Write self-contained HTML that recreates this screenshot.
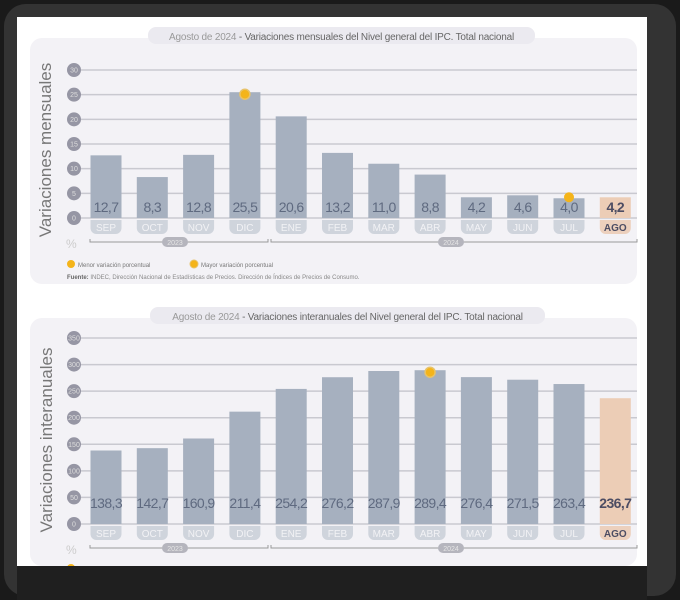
<!DOCTYPE html>
<html><head><meta charset="utf-8"><style>
html,body{margin:0;padding:0;background:#000;}
svg{display:block;font-family:"Liberation Sans",sans-serif;}
</style></head><body>
<svg id="c" width="680" height="600" viewBox="0 0 680 600">
<rect x="0" y="0" width="680" height="600" fill="#1a1a1a"/>
<rect x="4" y="4" width="672" height="592" rx="22" fill="#333"/>
<rect x="17" y="17" width="630" height="549" fill="#fff"/>
<g id="g1"></g><g id="g2"></g>
</svg>
<script>
const months=["SEP","OCT","NOV","DIC","ENE","FEB","MAR","ABR","MAY","JUN","JUL","AGO"];
const monthly=[12.7,8.3,12.8,25.5,20.6,13.2,11.0,8.8,4.2,4.6,4.0,4.2];
const monthlyTicks=[0,5,10,15,20,25,30];
const annual=[138.3,142.7,160.9,211.4,254.2,276.2,287.9,289.4,276.4,271.5,263.4,236.7];
const annualTicks=[0,50,100,150,200,250,300,350];
const monthlyMarks=[{i:3,t:"max"},{i:10,t:"min"}];
const annualMarks=[{i:7,t:"max"}];
const NS="http://www.w3.org/2000/svg";
function mk(p,tag,a,txt){const e=document.createElementNS(NS,tag);for(const k in a)e.setAttribute(k,a[k]);if(txt!==undefined)e.textContent=txt;p.appendChild(e);return e;}
function fmt(v){return v.toFixed(1).replace('.',',');}
function chart(g,o){
  const p=mk(g,'rect',{x:30,y:o.panelY,width:607,height:o.panelH,rx:12,fill:'#f3f2f6'});
  
  
  const tp=mk(g,'rect',{x:o.tx,y:o.tY-9,width:o.tw,height:17,rx:8,fill:'#ebeaf0'});
  
  
  const t=mk(g,'text',{x:o.tx+o.tw/2,y:o.tY+4,'text-anchor':'middle','font-size':10,fill:'#666','letter-spacing':'-0.2'});
  
  
  mk(t,'tspan',{fill:'#999'},'Agosto de 2024');
  mk(t,'tspan',{},' - '+o.title);
  const max=o.ticks[o.ticks.length-1];
  const y=v=>o.y0-(v/max)*(o.y0-o.yTop);
  const x=i=>106+i*46.3;
  o.ticks.forEach(v=>{
    const l=mk(g,'line',{x1:78,x2:637,y1:y(v),y2:y(v),stroke:'#c9c9d0','stroke-width':1.5});
    
    
    const c=mk(g,'circle',{cx:74,cy:y(v),r:7,fill:'#9696a4'});
    
    
    const tt=mk(g,'text',{x:74,y:y(v)+2.5,'text-anchor':'middle','font-size':7,fill:'#ddd'},v);
    
    
  });
  const yt=mk(g,'text',{x:0,y:0,transform:`translate(${o.ytX},${o.ytY}) rotate(-90)`,'text-anchor':'middle','font-size':17,fill:'#777'},o.ytitle);
  
  
  o.data.forEach((v,i)=>{
    const last=i===o.data.length-1;
    const b=mk(g,'rect',{x:x(i)-15.5,y:y(v),width:31,height:o.y0-y(v),fill:last?'#eccdb6':'#a6b0bf'});
    
    
    const vl=mk(g,'text',{x:x(i),y:o.y0-o.vOff,'text-anchor':'middle','font-size':o.vfs,fill:last?'#4d4d63':'#5f6a80','font-weight':last?'bold':'normal','letter-spacing':'-0.6'},fmt(v));
    
    
    const mp=mk(g,'path',{d:`M${x(i)-15.5},${o.y0+2}h31v8a6,6 0 0 1 -6,6h-19a6,6 0 0 1 -6,-6z`,fill:last?'#ecd0bd':'#cfd4dc'});
    
    
    const ml=mk(g,'text',{x:x(i),y:o.y0+13,'text-anchor':'middle','font-size':10,fill:last?'#4d4d63':'#f2f2f5','font-weight':last?'bold':'normal'},months[i]);
    
    
  });
  o.marks.forEach(m=>{
    const c=mk(g,'circle',{cx:x(m.i),cy:y(o.data[m.i])+(m.t==='max'?2:-1),r:5,fill:'#f4b41a',stroke:m.t==='max'?'#e8c36a':'none','stroke-width':1.5});
    
    
  });
  const yl=o.y0+24;
  const pc=mk(g,'text',{x:66,y:yl+6,'font-size':12,fill:'#ccc'},'%');
  
  
  [[90,268,175,'2023'],[271,637,451,'2024']].forEach(a=>{
    const l=mk(g,'path',{d:`M${a[0]},${yl-3}v3H${a[1]}v-3`,stroke:'#999',fill:'none','stroke-width':1});
    
    
    const r=mk(g,'rect',{x:a[2]-13,y:yl-5,width:26,height:10,rx:5,fill:'#b5b5bd'});
    
    
    const tx=mk(g,'text',{x:a[2],y:yl+3,'text-anchor':'middle','font-size':7,fill:'#e5e5e5'},a[3]);
    
    
  });
}
chart(document.getElementById('g1'),{panelY:38,panelH:246,tx:148,tw:387,tY:36,title:'Variaciones mensuales del Nivel general del IPC. Total nacional',ticks:monthlyTicks,data:monthly,y0:218,yTop:70,ytitle:'Variaciones mensuales',ytX:51,ytY:150,vfs:14,vOff:6,marks:monthlyMarks});
chart(document.getElementById('g2'),{panelY:318,panelH:248,tx:150,tw:395,tY:316,title:'Variaciones interanuales del Nivel general del IPC. Total nacional',ticks:annualTicks,data:annual,y0:524,yTop:338,ytitle:'Variaciones interanuales',ytX:52,ytY:440,vfs:14,vOff:16,marks:annualMarks});
const g1=document.getElementById('g1');
[[71,'Menor variación porcentual'],[194,'Mayor variación porcentual']].forEach((a,k)=>{
  const c=mk(g1,'circle',{cx:a[0],cy:264,r:4,fill:'#f4b41a',stroke:k?'#e8c36a':'none'});
  
  
  const t=mk(g1,'text',{x:a[0]+7,y:267,'font-size':6,fill:'#777'},a[1]);
  
  
});
const src=mk(g1,'text',{x:67,y:279,'font-size':6,fill:'#888'});


mk(src,'tspan',{'font-weight':'bold',fill:'#666'},'Fuente: ');
mk(src,'tspan',{},'INDEC, Dirección Nacional de Estadísticas de Precios. Dirección de Índices de Precios de Consumo.');
const ld=mk(document.getElementById('g2'),'circle',{cx:71,cy:568,r:4,fill:'#f4b41a'});


const cover=mk(document.getElementById('c'),'rect',{x:17,y:566,width:630,height:34,fill:'#1f1f1f'});


</script>
</body></html>
